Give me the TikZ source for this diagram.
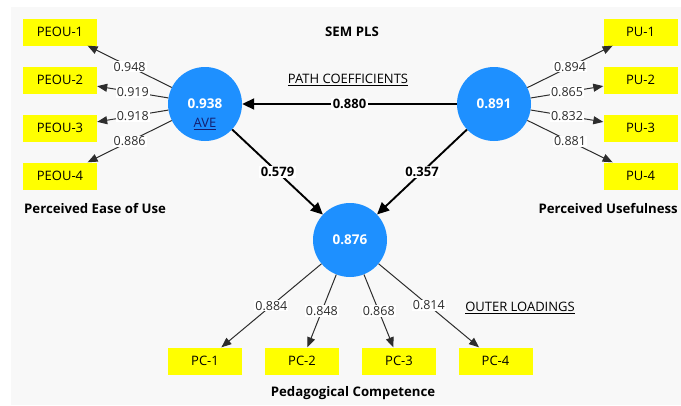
\documentclass[tikz,border=0pt]{standalone}
\usepackage{fontspec}
\setmainfont{Open Sans}
\usetikzlibrary{arrows.meta}
\definecolor{panel}{RGB}{248,248,248}
\definecolor{lv}{RGB}{30,144,255}
\definecolor{ind}{RGB}{255,255,0}
\definecolor{loadc}{RGB}{45,45,45}
\definecolor{navyc}{RGB}{20,30,110}
\begin{document}
\begin{tikzpicture}[x=1pt,y=-1pt,
  lvnode/.style={circle,fill=lv,minimum size=74pt,inner sep=0pt,text=white,font=\fontsize{13.5}{15}\selectfont\bfseries},
  indbox/.style={rectangle,fill=ind,minimum width=74pt,minimum height=27pt,inner sep=0pt,font=\fontsize{13}{15}\selectfont},
  load/.style={draw=loadc,line width=1pt,-{Triangle[length=10pt,width=8pt]}},
  pathc/.style={draw=black,line width=1.9pt,-{Triangle[length=12pt,width=11pt]}},
  lab/.style={fill=white,inner sep=1pt,text=loadc,font=\fontsize{12.5}{14}\selectfont},
  plab/.style={fill=white,inner sep=1.5pt,font=\fontsize{13}{15}\selectfont\bfseries},
  ttl/.style={inner sep=0pt,font=\fontsize{13.2}{15}\selectfont\bfseries},
  utl/.style={inner sep=0pt,font=\fontsize{13}{15}\selectfont}]
\fill[white] (0,0) rectangle (681,405);
\fill[panel] (11,7) rectangle (681,405);
\useasboundingbox (0,0) rectangle (681,405);

% latent variables
\node[lvnode] (peou) at (205,104) {0.938};
\node[lvnode] (pu) at (494,104) {0.891};
\node[lvnode] (pc) at (350,240) {0.876};
\node[inner sep=0pt,text=navyc,font=\fontsize{13}{15}\selectfont] (ave) at (205,124) {\underline{AVE}};

% indicators
\node[indbox] (e1) at (60,32) {PEOU-1};
\node[indbox] (e2) at (60,80) {PEOU-2};
\node[indbox] (e3) at (60,128) {PEOU-3};
\node[indbox] (e4) at (60,176) {PEOU-4};
\node[indbox] (u1) at (640.5,32) {PU-1};
\node[indbox] (u2) at (640.5,80) {PU-2};
\node[indbox] (u3) at (640.5,128) {PU-3};
\node[indbox] (u4) at (640.5,176) {PU-4};
\node[indbox] (c1) at (205,361) {PC-1};
\node[indbox] (c2) at (302,361) {PC-2};
\node[indbox] (c3) at (399,361) {PC-3};
\node[indbox] (c4) at (495.5,361) {PC-4};

% titles
\node[ttl] (title) at (352,32) {SEM PLS};
\node[utl] (pcoef) at (348,80) {\underline{PATH COEFFICIENTS}};
\node[utl] (outl) at (520,308) {\underline{OUTER LOADINGS}};
\node[ttl,anchor=west] (tpeou) at (24,209) {Perceived Ease of Use};
\node[ttl,anchor=east] (tpu) at (678,209) {Perceived Usefulness};
\node[ttl] (tpc) at (353,393) {Pedagogical Competence};

% loadings
\draw[load] (peou) -- node[lab]{0.948} (e1);
\draw[load] (peou) -- node[lab]{0.919} (e2);
\draw[load] (peou) -- node[lab]{0.918} (e3);
\draw[load] (peou) -- node[lab]{0.886} (e4);
\draw[load] (pu) -- node[lab]{0.894} (u1);
\draw[load] (pu) -- node[lab]{0.865} (u2);
\draw[load] (pu) -- node[lab]{0.832} (u3);
\draw[load] (pu) -- node[lab]{0.881} (u4);
\draw[load] (pc) -- node[lab]{0.884} (c1);
\draw[load] (pc) -- node[lab]{0.848} (c2);
\draw[load] (pc) -- node[lab]{0.868} (c3);
\draw[load] (pc) -- node[lab]{0.814} (c4);

% path coefficients
\draw[pathc] (pu) -- node[plab]{0.880} (peou);
\draw[pathc] (peou) -- node[plab]{0.579} (pc);
\draw[pathc] (pu) -- node[plab]{0.357} (pc);
\end{tikzpicture}
\end{document}
